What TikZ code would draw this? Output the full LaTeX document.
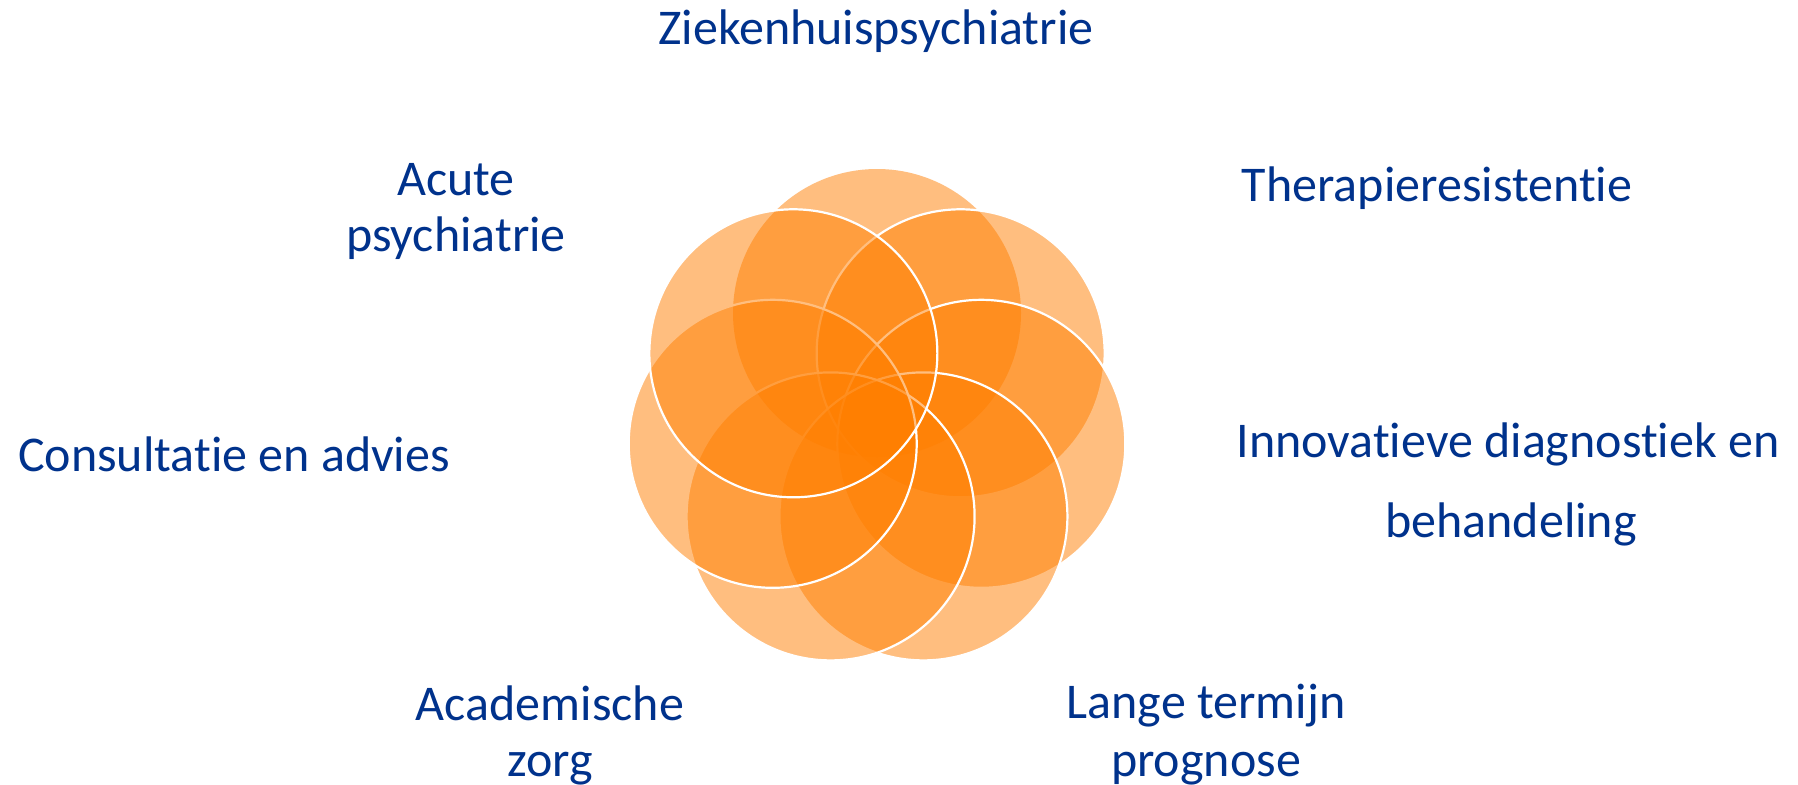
\documentclass[tikz,border=0pt]{standalone}
\usepackage{fontspec}
\setmainfont{Carlito}[RawFeature=-liga]
\usetikzlibrary{calc}
\definecolor{petal}{RGB}{255,127,0}
\definecolor{labelblue}{RGB}{0,50,140}
\begin{document}
\begin{tikzpicture}[x=1pt,y=-1pt,
  petalbase/.style={fill=petal,fill opacity=0.5},
  petaledge/.style={petalbase,draw=white,line width=2.2pt},
  lbl/.style={anchor=base,text=labelblue,font=\fontsize{50}{60}\selectfont,inner sep=0pt}]
\useasboundingbox (0,0) rectangle (1798,784);
\fill[white] (0,0) rectangle (1798,784);
\coordinate (c) at (877,420);
% petals, drawn in order (y axis points down, so angles are mirrored)
\path[petalbase] ($(c)+(-90:107)$) circle[radius=144];
\path[petaledge] ($(c)+(-38.57:107)$) circle[radius=144];
\path[petaledge] ($(c)+(12.86:107)$) circle[radius=144];
\path[petaledge] ($(c)+(64.29:107)$) circle[radius=144];
\path[petaledge] ($(c)+(115.71:107)$) circle[radius=144];
\path[petaledge] ($(c)+(167.14:107)$) circle[radius=144];
\path[petaledge] ($(c)+(-141.43:107)$) circle[radius=144];
% labels
\node[lbl] (zh) at (876,45) {Ziekenhuispsychiatrie};
\node[lbl] (ac1) at (456,195) {Acute};
\node[lbl] (ac2) at (456,251) {psychiatrie};
\node[lbl] (th) at (1437,201) {Therapieresistentie};
\node[lbl] (co) at (234,471) {Consultatie en advies};
\node[lbl] (in1) at (1508,457) {Innovatieve diagnostiek en};
\node[lbl] (in2) at (1511,537) {behandeling};
\node[lbl] (ak1) at (550,720) {Academische};
\node[lbl] (ak2) at (550,776) {zorg};
\node[lbl] (lt1) at (1206,718) {Lange termijn};
\node[lbl] (lt2) at (1206,776) {prognose};
\end{tikzpicture}
\end{document}
